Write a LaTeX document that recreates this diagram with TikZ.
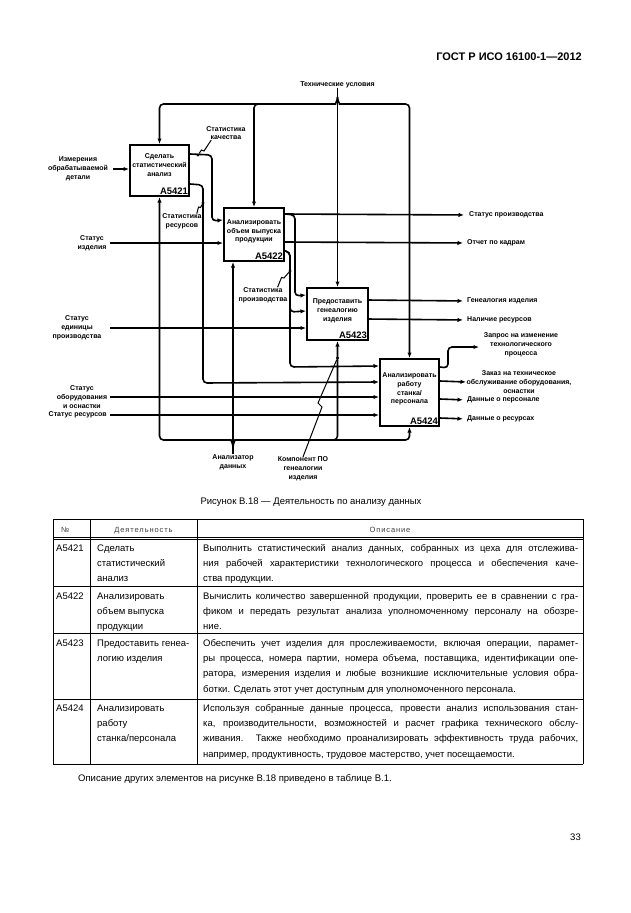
\documentclass[tikz,border=0pt]{standalone}
\usepackage{fontspec}
\setmainfont{Liberation Sans}
\usetikzlibrary{arrows.meta,calc}
\newcommand\jl[1]{\makebox[375pt][s]{#1}\\}
\begin{document}
\begin{tikzpicture}[x=1pt,y=-1pt,
  conn/.style={line width=1.6pt, rounded corners=4pt},
  arr/.style={-{Latex[length=5.5pt,width=4.4pt]}},
  idbox/.style={draw, line width=2pt, inner sep=0pt},
  dfont/.style={font=\fontsize{7}{8.8}\selectfont\bfseries},
  dlab/.style={dfont, align=center, inner sep=0pt},
  olab/.style={dfont, anchor=west, inner sep=0pt},
  bid/.style={font=\fontsize{9.5}{9.5}\selectfont\bfseries, anchor=south east, inner sep=1.8pt},
  squig/.style={line width=1pt},
  jdot/.style={circle, fill, inner sep=0pt, minimum size=3.4pt},
  tline/.style={line width=0.7pt},
  cell/.style={anchor=north west, inner sep=0pt, align=left, font=\fontsize{9.5}{15.3}\selectfont},
  thead/.style={inner sep=0pt, text=black!75, font=\fontsize{7.5}{9}\selectfont\addfontfeature{LetterSpace=12}},
  ptext/.style={inner sep=0pt, font=\fontsize{9.5}{11}\selectfont},
]
\fill[white] (0,0) rectangle (630,913);
\useasboundingbox (0,0) rectangle (630,913);

% header
\node[anchor=base east, inner sep=0pt, font=\fontsize{11}{13}\selectfont\bfseries] (hdr) at (582,60) {ГОСТ Р ИСО 16100-1—2012};

% boxes
\node[idbox, minimum width=59pt, minimum height=51pt] (b1) at (159.5,170.5) {};
\node[idbox, minimum width=60pt, minimum height=53pt] (b2) at (254,234.5) {};
\node[idbox, minimum width=61pt, minimum height=52pt] (b3) at (337.5,314) {};
\node[idbox, minimum width=59pt, minimum height=67pt] (b4) at (409.5,392.5) {};
\node[dlab] (t1) at (159.5,165) {Сделать\\статистический\\анализ};
\node[dlab] (t2) at (254,231.5) {Анализировать\\объем выпуска\\продукции};
\node[dlab] (t3) at (337.5,311) {Предоставить\\генеалогию\\изделия};
\node[dlab] (t4) at (409.5,389) {Анализировать\\работу\\станка/\\персонала};
\node[bid] (i1) at (b1.south east) {A5421};
\node[bid] (i2) at (b2.south east) {A5422};
\node[bid] (i3) at (b3.south east) {A5423};
\node[bid] (i4) at (b4.south east) {A5424};

% controls
\node[dlab] (tu) at (337.5,85) {Технические условия};
\coordinate (tj) at (337.5,97);
\draw[conn,arr] (tu.south) -- (b3.north);
\draw[conn,arr] (tj) to[out=-90,in=0] (331.5,104) -- (159.5,104) -- (b1.north);
\draw[conn,arr] (270,104) -- (254,104) -- (b2.north);
\draw[conn,arr] (tj) to[out=-90,in=180] (343.5,104) -- (409.5,104) -- (b4.north);

% mechanisms
\node[dlab] (ad) at (233,462) {Анализатор\\данных};
\coordinate (mj) at (233,447);
\draw[conn,arr] (ad.north) -- (ad.north |- b2.south);
\draw[conn,arr] (mj) to[out=90,in=0] (227,440) -- (159.5,440) -- (b1.south);
\draw[conn,arr] (mj) to[out=90,in=180] (239,440) -- (337.5,440) -- (b3.south);
\draw[conn,arr] (300,440) -- (409.5,440) -- (b4.south);
\node[dlab] (kp) at (303,469) {Компонент ПО\\генеалогии\\изделия};
\node[jdot] (d4) at (337.5,358) {};
\draw[squig] (d4) -- (318,403) -- (322,407) -- (kp.north);

% inputs
\coordinate (lx1) at (113,0);
\coordinate (lx) at (110,0);
\node[dlab] (im) at (78,169) {Измерения\\обрабатываемой\\детали};
\draw[conn,arr] (im.east -| lx1) -- (im.east -| b1.west);
\node[dlab] (si) at (92,243) {Статус\\изделия};
\draw[conn,arr] (si.east -| lx) -- (si.east -| b2.west);
\node[dlab] (se) at (77,328) {Статус\\единицы\\производства};
\draw[conn,arr] (se.east -| lx) -- (se.east -| b3.west);
\node[dlab] (so) at (82,397) {Статус\\оборудования\\и оснастки};
\draw[conn,arr] (so.east -| lx) -- (so.east -| b4.west);
\node[dfont, anchor=east, inner sep=0pt] (sres) at (107,415) {Статус ресурсов};
\draw[conn,arr] (sres.east -| lx) -- (sres.east -| b4.west);

% internal flows
\draw[conn,arr] ($(b1.north east)+(0,10)$) -- (212,155) -- (212,221) -- ($(b2.north west)+(0,13)$);
\draw[conn,arr] ($(b1.north east)+(0,40)$) -- (203,185) -- (203,383) -- ($(b4.north west)+(0,24)$);
\draw[conn,arr] ($(b2.north east)+(0,7)$) -- (295,215) -- (295,296) -- ($(b3.north west)+(0,8)$);
\draw[conn,arr] ($(b2.north east)+(0,44)$) -- (290,252) -- (290,312) -- ($(b3.north west)+(0,24)$);
\draw[conn,arr] ($(b2.north east)+(0,44)$) -- (290,252) -- (290,367) -- ($(b4.north west)+(0,8)$);

% squiggle labels
\node[dlab] (sk) at (226,133) {Статистика\\качества};
\node[jdot] (d1) at (198,155) {};
\draw[squig] (d1) -- (201.5,150) -- (204,151) -- ($(sk.south west)+(5,0)$);
\node[dlab] (srs) at (182,221.5) {Статистика\\ресурсов};
\node[jdot] (d2) at (203,203) {};
\draw[squig] (d2) -- (200.5,207.5) -- (198.5,207) -- ($(srs.north east)+(-5,0)$);
\node[dlab] (sp) at (263,295) {Статистика\\производства};
\node[jdot] (d3) at (290,271) {};
\draw[squig] (d3) -- (284,278) -- (281.5,277.5) -- ($(sp.north east)+(-10,0)$);

% outputs
\node[olab] (o1) at (469,215) {Статус производства};
\node[olab] (o2) at (467,243) {Отчет по кадрам};
\node[olab] (o3) at (467,301) {Генеалогия изделия};
\node[olab] (o4) at (467,320) {Наличие ресурсов};
\node[dlab] (o5) at (521,345) {Запрос на изменение\\технологического\\процесса};
\node[dlab] (o6) at (519,382) {Заказ на техническое\\обслуживание оборудования,\\оснастки};
\node[olab] (o7) at (467,400) {Данные о персонале};
\node[olab] (o8) at (467,419) {Данные о ресурсах};
\coordinate (q5) at (479,347);
\coordinate (q6) at (466,382);
\draw[conn,arr,shorten >=5pt] ($(b2.north east)+(0,7)$) -- (o1.west);
\draw[conn,arr,shorten >=4pt] ($(b2.north east)+(0,35)$) -- (o2.west);
\draw[conn,arr,shorten >=4pt] ($(b3.north west)+(61,13)$) -- (o3.west);
\draw[conn,arr,shorten >=4pt] ($(b3.north west)+(61,32)$) -- (o4.west);
\draw[conn,arr] ($(b4.north east)+(0,9)$) -- (448,368) -- (448,347) -- (q5);
\draw[conn,arr] ($(b4.north east)+(0,23)$) -- (q6);
\draw[conn,arr,shorten >=4pt] ($(b4.north east)+(0,41)$) -- (o7.west);
\draw[conn,arr,shorten >=4pt] ($(b4.north east)+(0,60)$) -- (o8.west);

% caption
\node[ptext, anchor=base] (cap) at (311,504) {Рисунок В.18 — Деятельность по анализу данных};

% table
\draw[tline] (53,519) -- (583,519);
\draw[tline] (53,537) -- (583,537);
\draw[tline] (53,539.5) -- (583,539.5);
\draw[tline] (53,586) -- (583,586);
\draw[tline] (53,633) -- (583,633);
\draw[tline] (53,699) -- (583,699);
\draw[tline] (53,764) -- (583,764);
\draw[tline] (53,519) -- (53,764);
\draw[tline] (90,519) -- (90,764);
\draw[tline] (197,519) -- (197,764);
\draw[tline] (583,519) -- (583,764);
\node[thead, anchor=base west] (h1) at (61,532) {№};
\node[thead, anchor=base] (h2) at (143.5,532) {Деятельность};
\node[thead, anchor=base] (h3) at (390,532) {Описание};

\node[cell] (r1a) at (56,541) {\rule{0pt}{10pt}A5421};
\node[cell] (r1b) at (97,541) {\rule{0pt}{10pt}Сделать\\статистический\\анализ};
\node[cell] (r1c) at (203,541) {\rule{0pt}{10pt}\jl{Выполнить статистический анализ данных, собранных из цеха для отслежива-}\jl{ния рабочей характеристики технологического процесса и обеспечения каче-}ства продукции.};

\node[cell] (r2a) at (56,589) {\rule{0pt}{10pt}A5422};
\node[cell] (r2b) at (97,589) {\rule{0pt}{10pt}Анализировать\\объем выпуска\\продукции};
\node[cell] (r2c) at (203,589) {\rule{0pt}{10pt}\jl{Вычислить количество завершенной продукции, проверить ее в сравнении с гра-}\jl{фиком и передать результат анализа уполномоченному персоналу на обозре-}ние.};

\node[cell] (r3a) at (56,636) {\rule{0pt}{10pt}A5423};
\node[cell] (r3b) at (97,636) {\rule{0pt}{10pt}Предоставить генеа-\\логию изделия};
\node[cell] (r3c) at (203,636) {\rule{0pt}{10pt}\jl{Обеспечить учет изделия для прослеживаемости, включая операции, парамет-}\jl{ры процесса, номера партии, номера объема, поставщика, идентификации опе-}\jl{ратора, измерения изделия и любые возникшие исключительные условия обра-}ботки. Сделать этот учет доступным для уполномоченного персонала.};

\node[cell] (r4a) at (56,701) {\rule{0pt}{10pt}A5424};
\node[cell] (r4b) at (97,701) {\rule{0pt}{10pt}Анализировать\\работу\\станка/персонала};
\node[cell] (r4c) at (203,701) {\rule{0pt}{10pt}\jl{Используя собранные данные процесса, провести анализ использования стан-}\jl{ка, производительности, возможностей и расчет графика технического обслу-}\jl{живания. Также необходимо проанализировать эффективность труда рабочих,}например, продуктивность, трудовое мастерство, учет посещаемости.};

\node[ptext, anchor=base west] (foot) at (78,781) {Описание других элементов на рисунке В.18 приведено в таблице В.1.};
\node[ptext, anchor=base east] (pg) at (581,840) {33};
\end{tikzpicture}
\end{document}
